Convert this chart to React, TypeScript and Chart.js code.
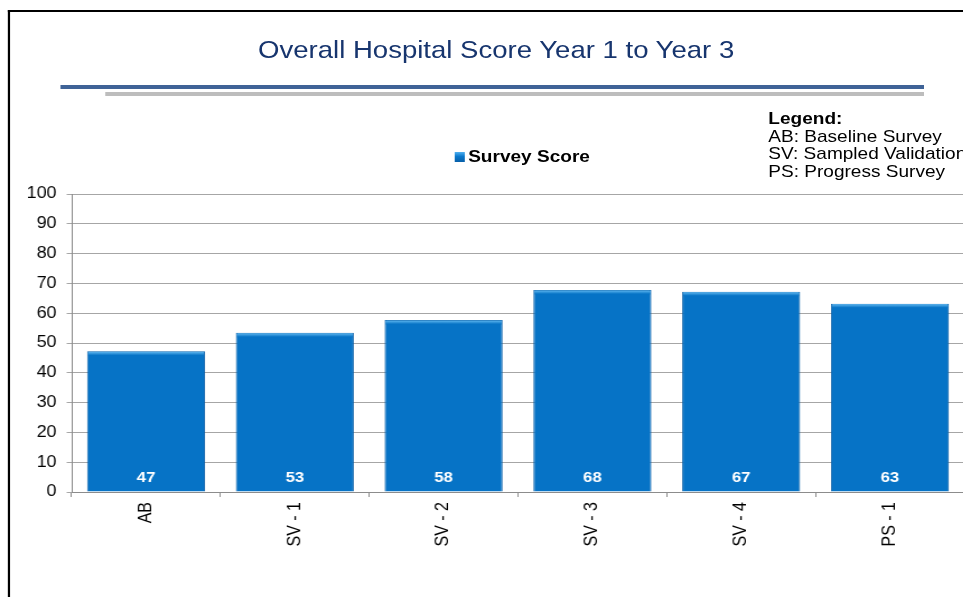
import React, { useEffect, useRef } from "react";
import { Chart, registerables } from "chart.js";

Chart.register(...registerables);

const chartTitle = "Overall Hospital Score Year 1 to Year 3";
const seriesName = "Survey Score";
const categories = ["AB", "SV - 1", "SV - 2", "SV - 3", "SV - 4", "PS - 1"];
const surveyScores = [47.2, 53.4, 57.7, 67.8, 67.2, 63.2];
const legendHeading = "Legend:";
const legendLines = ["AB: Baseline Survey", "SV: Sampled Validation", "PS: Progress Survey"];
const yMin = 0;
const yMax = 100;
const yStep = 10;

const FONT = 'Arial, "Liberation Sans", Helvetica, sans-serif';
const STRETCH = 1.12;

const barDecor = {
  id: "barDecor",
  afterDatasetsDraw(chart: any) {
    const ctx = chart.ctx;
    const meta = chart.getDatasetMeta(0);
    const values = chart.data.datasets[0].data as number[];
    const base = chart.scales.y.getPixelForValue(0);
    meta.data.forEach((bar: any, i: number) => {
      const { x, y, width } = bar.getProps(["x", "y", "width"], true);
      ctx.save();
      const g = ctx.createLinearGradient(0, y, 0, y + 4);
      g.addColorStop(0, "#6BC0F5");
      g.addColorStop(1, "#0673C6");
      ctx.fillStyle = g;
      ctx.fillRect(x - width / 2 + 1, y + 0.5, width - 2, 4);
      ctx.fillStyle = "#ffffff";
      ctx.font = `bold 15px ${FONT}`;
      ctx.textAlign = "center";
      ctx.textBaseline = "middle";
      ctx.fillText(String(Math.round(values[i])), x, base - 14.5);
      ctx.restore();
    });
  },
};

export default function App() {
  const canvasRef = useRef<HTMLCanvasElement | null>(null);

  useEffect(() => {
    if (!canvasRef.current) return;
    const chart = new Chart(canvasRef.current, {
      type: "bar",
      data: {
        labels: categories,
        datasets: [
          {
            label: seriesName,
            data: surveyScores,
            backgroundColor: "#0673C6",
            borderColor: "#0A5EA6",
            borderWidth: 1,
            barPercentage: 0.793,
            categoryPercentage: 1,
          },
        ],
      },
      options: {
        responsive: false,
        maintainAspectRatio: false,
        animation: false,
        layout: { padding: { top: 194, left: 0, right: 9, bottom: 0 } },
        plugins: {
          legend: { display: false },
          title: { display: false },
          tooltip: { enabled: false },
        },
        scales: {
          x: {
            offset: true,
            grid: {
              offset: true,
              drawOnChartArea: false,
              drawTicks: true,
              tickLength: 5,
              color: "#8C8C8C",
            },
            border: { color: "#8C8C8C" },
            ticks: {
              minRotation: 90,
              maxRotation: 90,
              autoSkip: false,
              padding: 5,
              color: "#000000",
              font: { family: FONT, size: 16 },
            },
            afterFit: (s: any) => {
              s.height = 105;
            },
          },
          y: {
            min: yMin,
            max: yMax,
            ticks: {
              stepSize: yStep,
              padding: 9,
              color: "#000000",
              font: { family: FONT, size: 16 },
            },
            grid: { color: "#A6A6A6", tickLength: 4.5 },
            border: { color: "#8C8C8C" },
            afterFit: (s: any) => {
              s.width = 64;
            },
          },
        },
      },
      plugins: [barDecor],
    });
    return () => chart.destroy();
  }, []);

  return (
    <div
      style={{
        position: "fixed",
        left: 0,
        top: 0,
        width: 963,
        height: 597,
        overflow: "hidden",
        background: "#ffffff",
      }}
    >
      <div
        style={{
          position: "absolute",
          left: 0,
          top: 0,
          width: 870,
          height: 597,
          transform: `scaleX(${STRETCH})`,
          transformOrigin: "0 0",
          fontFamily: FONT,
        }}
      >
        <div
          style={{
            position: "absolute",
            left: 7.1,
            top: 10,
            width: 1000,
            height: 700,
            borderLeft: "2.5px solid #000",
            borderTop: "2.5px solid #000",
          }}
        />
        <div
          style={{
            position: "absolute",
            left: 143,
            width: 600,
            top: 35,
            textAlign: "center",
            fontSize: 24.6,
            lineHeight: "30px",
            color: "#17356E",
            whiteSpace: "nowrap",
          }}
        >
          {chartTitle}
        </div>
        <div
          style={{
            position: "absolute",
            left: 53.6,
            width: 771.4,
            top: 84.5,
            height: 4,
            background: "#3F6397",
          }}
        />
        <div
          style={{
            position: "absolute",
            left: 93.8,
            width: 731.2,
            top: 92,
            height: 3.5,
            background: "#BDBDBD",
          }}
        />
        <div
          style={{
            position: "absolute",
            left: 406.3,
            top: 152,
            width: 9,
            height: 10,
            background: "linear-gradient(180deg, #4FB0F0 0%, #0A78CC 45%, #075FA8 100%)",
          }}
        />
        <div
          style={{
            position: "absolute",
            left: 418,
            top: 146,
            fontSize: 17,
            lineHeight: "22px",
            fontWeight: "bold",
            color: "#000",
            whiteSpace: "nowrap",
          }}
        >
          {seriesName}
        </div>
        <div
          style={{
            position: "absolute",
            left: 686,
            top: 110,
            fontSize: 17,
            lineHeight: "17.5px",
            color: "#000",
            whiteSpace: "nowrap",
          }}
        >
          <div style={{ fontWeight: "bold" }}>{legendHeading}</div>
          {legendLines.map((l) => (
            <div key={l}>{l}</div>
          ))}
        </div>
        <canvas
          ref={canvasRef}
          width={870}
          height={597}
          style={{ position: "absolute", left: 0, top: 0, width: 870, height: 597 }}
        />
      </div>
    </div>
  );
}
